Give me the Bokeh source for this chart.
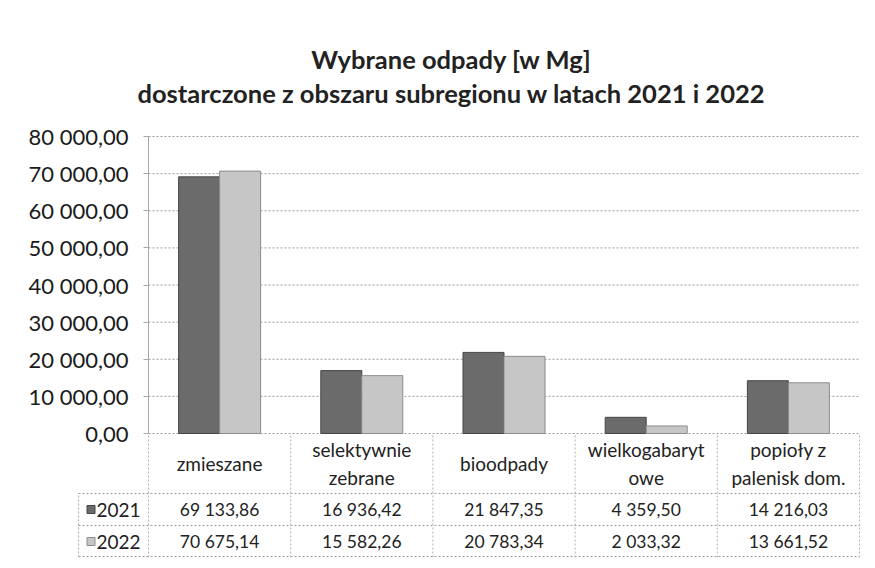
from bokeh.plotting import figure
from bokeh.models import FixedTicker, Range1d, ColumnDataSource
from bokeh.core.properties import value
from bokeh.embed import file_html
from bokeh.resources import INLINE

# ---- data ----
categories = ["zmieszane", "selektywnie\nzebrane", "bioodpady", "wielkogabaryt\nowe", "popioły z\npalenisk dom."]
years = ["2021", "2022"]
v2021 = [69133.86, 16936.42, 21847.35, 4359.50, 14216.03]
v2022 = [70675.14, 15582.26, 20783.34, 2033.32, 13661.52]
y_ticks = [0, 10000, 20000, 30000, 40000, 50000, 60000, 70000, 80000]
title_lines = ["Wybrane odpady [w Mg]", "dostarczone z obszaru subregionu w latach 2021 i 2022"]

FONT = "Lato"
TXT = "#222222"
C2021_FILL, C2021_LINE = "#6b6b6b", "#454545"
C2022_FILL, C2022_LINE = "#c6c6c6", "#8c8c8c"
GRID = "#9a9a9a"


def fmt(v):
    return f"{v:,.2f}".replace(",", " ").replace(".", ",")


n = len(categories)

# ---- layout constants (pixels on the page) ----
W, H = 867, 560
FR_L, FR_R, FR_B = 20, 860, 557          # frame edges
AX_X, Y0, YMAX_PX = 148, 433, 136       # axis x, y of 0, y of 80000
CAT_PX = (859 - AX_X) / n
ROW_PX = 32
HDR_PX = 60
LEG_PX = 70

ymax = y_ticks[-1]
per_px = ymax / (Y0 - YMAX_PX)
x_start = -(AX_X - FR_L) / CAT_PX
x_end = (FR_R - AX_X) / CAT_PX
y_start = -(FR_B - Y0) * per_px
y_end = ymax + YMAX_PX * per_px

p = figure(width=W, height=H, output_backend="svg", toolbar_location=None,
           x_range=Range1d(x_start, x_end), y_range=Range1d(y_start, y_end),
           x_axis_location=None,
           min_border_left=FR_L, min_border_right=W - FR_R,
           min_border_top=0, min_border_bottom=H - FR_B)
p.outline_line_color = None
p.grid.visible = False
# extra range in table-row units, 0 at frame bottom
p.extra_y_ranges = {"tab": Range1d(0, FR_B / ROW_PX)}

ax = p.yaxis[0]
ax.fixed_location = 0
ax.bounds = (0, ymax)
ax.ticker = FixedTicker(ticks=y_ticks)
ax.major_label_overrides = {t: fmt(t) for t in y_ticks}
ax.major_label_text_font = FONT
ax.major_label_text_font_size = "22px"
ax.major_label_text_color = "#1a1a1a"
ax.axis_line_color = "#a8a8a8"
ax.major_tick_line_color = "#a8a8a8"
ax.major_tick_out = 5
ax.major_tick_in = 0
ax.minor_tick_line_color = None
ax.major_label_standoff = 15

# horizontal grid lines over the plot area
p.segment(x0=[0] * len(y_ticks), x1=[n] * len(y_ticks), y0=y_ticks, y1=y_ticks,
          line_color=GRID, line_dash="2 2", line_width=1, level="underlay")

# bars
xs = [i + 0.5 for i in range(n)]
bw = 41 / CAT_PX
src = ColumnDataSource(dict(x1=[x - bw / 2 for x in xs], x2=[x + bw / 2 for x in xs],
                            v1=v2021, v2=v2022))
p.vbar(x="x1", top="v1", width=bw, bottom=0, source=src,
       fill_color=C2021_FILL, line_color=C2021_LINE, line_width=1)
p.vbar(x="x2", top="v2", width=bw, bottom=0, source=src,
       fill_color=C2022_FILL, line_color=C2022_LINE, line_width=1)

# title (centered over the chart area)
tx = (451 - AX_X) / CAT_PX
p.text(x=[tx, tx], y=[(FR_B - 58) / ROW_PX, (FR_B - 92) / ROW_PX], text=title_lines,
       y_range_name="tab", text_align="center", text_baseline="middle",
       text_font=value(FONT), text_font_size="25.5px", text_font_style="bold", text_color=TXT)

# ---- data table ----
LEFT = LEG_PX / CAT_PX
HDR = HDR_PX / ROW_PX
p.multi_line(xs=[[-LEFT, n], [-LEFT, n], [-LEFT, n]], ys=[[0.03, 0.03], [1, 1], [2, 2]],
             y_range_name="tab", line_color=GRID, line_dash="2 2", line_width=1)
vx = [[i, i] for i in range(n + 1)] + [[-LEFT, -LEFT]]
vy = [[0, 2 + HDR] for _ in range(n + 1)] + [[0, 2]]
vx[0] = [0, 0]
p.multi_line(xs=vx, ys=vy, y_range_name="tab", line_color="#b0b0b0", line_dash="2 2", line_width=1)

tsrc = ColumnDataSource(dict(x=xs, cat=categories, y_h=[2 + HDR / 2] * n,
                             a=[fmt(v) for v in v2021], b=[fmt(v) for v in v2022],
                             y1=[1.5] * n, y2=[0.5] * n))
p.text(x="x", y="y_h", text="cat", source=tsrc, y_range_name="tab",
       text_align="center", text_baseline="middle",
       text_font=value(FONT), text_font_size="19px", text_color=TXT, text_line_height=1.2)
p.text(x="x", y="y1", text="a", source=tsrc, y_range_name="tab",
       text_align="center", text_baseline="middle",
       text_font=value(FONT), text_font_size="17.5px", text_color=TXT)
p.text(x="x", y="y2", text="b", source=tsrc, y_range_name="tab",
       text_align="center", text_baseline="middle",
       text_font=value(FONT), text_font_size="17.5px", text_color=TXT)

# legend keys in the table
kx = -LEFT + 12.5 / CAT_PX
lx = -LEFT + 18 / CAT_PX
lsrc = ColumnDataSource(dict(kx=[kx, kx], lx=[lx, lx], y=[1.5, 0.5], yr=years,
                             fc=[C2021_FILL, C2022_FILL], lc=[C2021_LINE, C2022_LINE]))
p.scatter(x="kx", y="y", marker="square", size=8, fill_color="fc", line_color="lc",
          source=lsrc, y_range_name="tab")
p.text(x="lx", y="y", text="yr", source=lsrc, y_range_name="tab",
       text_align="left", text_baseline="middle",
       text_font=value(FONT), text_font_size="19px", text_color=TXT)

open("out.html", "w").write(file_html(p, INLINE))
